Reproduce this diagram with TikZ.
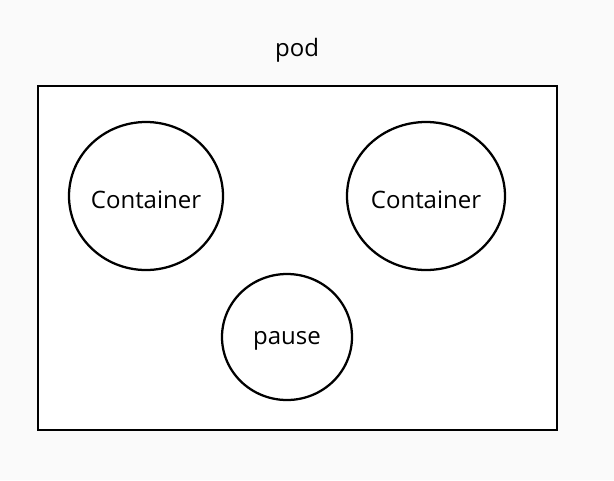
\documentclass[tikz,border=0pt]{standalone}
\usepackage{fontspec}
\setmainfont{Open Sans}
\usetikzlibrary{shapes.geometric}
\tikzstyle{podbox}=[draw,line width=1.7pt,fill=white]
\tikzstyle{ctr}=[ellipse,draw,line width=1.7pt,inner sep=0pt]
\tikzstyle{nametext}=[font=\fontsize{18}{20}\selectfont]

\begin{document}
\begin{tikzpicture}[x=0.75pt,y=-0.75pt]
    % background and bounding box
    \fill[black!2] (0,0) rectangle (614,480);
    \useasboundingbox (0,0) rectangle (614,480);
    % the pod
    \node[podbox,minimum width=519*0.75pt,minimum height=344*0.75pt,inner sep=0pt] (pod) at (297.5,258) {};
    \node[nametext] (podname) at (297,50) {pod};
    % the containers
    \foreach \pos/\name/\w/\h/\text in {{(146,196)/left/154/148/Container},
    {(426,196)/right/158/148/Container},
    {(287,337)/pause/130/126/pause}}
        \node[ctr,minimum width=\w*0.75pt,minimum height=\h*0.75pt,
              label={[nametext,yshift=-2.5pt]center:\text}] (\name) at \pos {};
\end{tikzpicture}
\end{document}
